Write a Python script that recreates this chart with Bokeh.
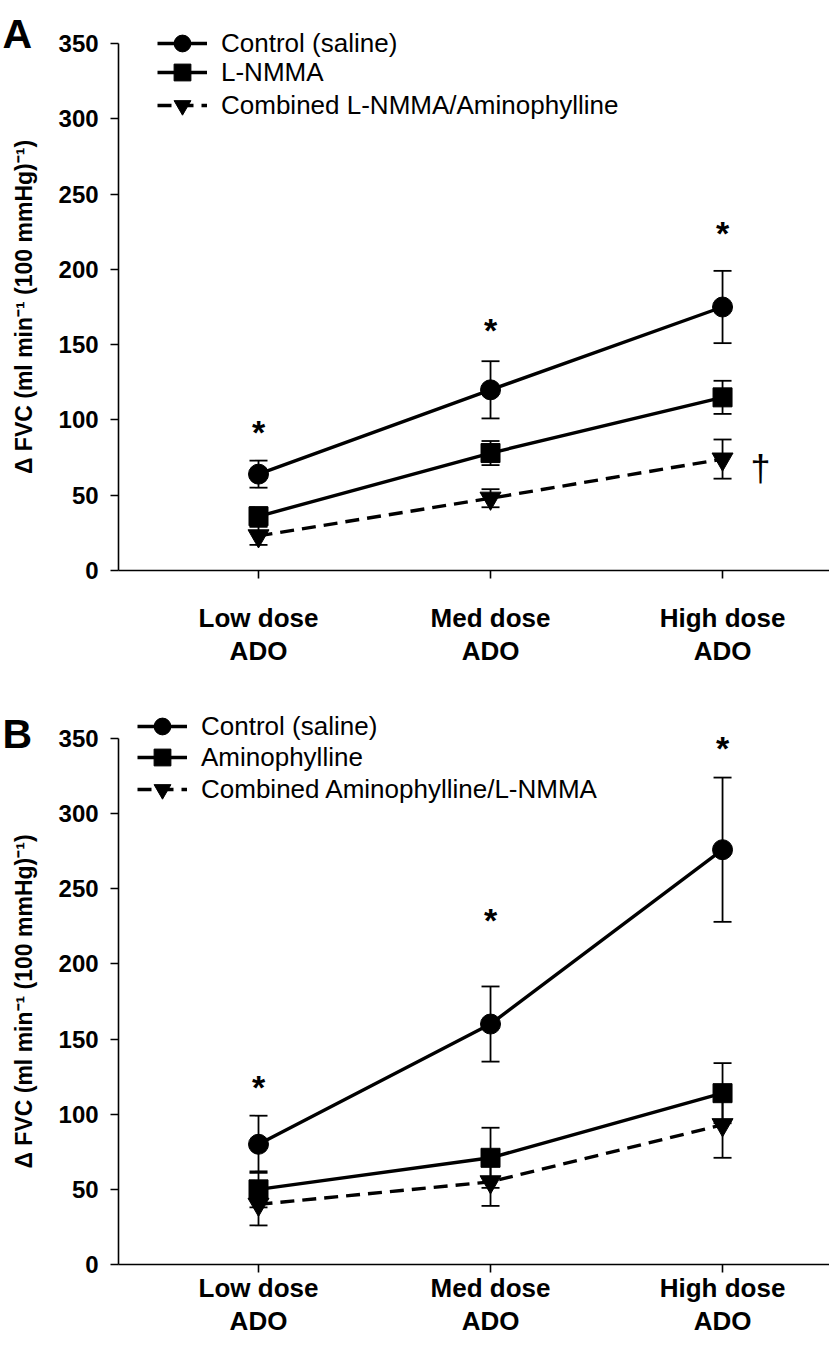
from bokeh.plotting import figure
from bokeh.layouts import column
from bokeh.models import Range1d, Legend, LegendItem, FixedTicker, Label
from bokeh.embed import file_html
from bokeh.resources import INLINE
from bokeh.core.properties import value

FONT = "Liberation Sans"

# ---------------- data ----------------
doses = [1, 2, 3]
dose_labels = ["Low dose\nADO", "Med dose\nADO", "High dose\nADO"]
y_ticks = [0, 50, 100, 150, 200, 250, 300, 350]
y_label = "\u0394 FVC (ml min\u207b\u00b9 (100 mmHg)\u207b\u00b9)"

# Panel A
a_labels = ["Control (saline)", "L-NMMA", "Combined L-NMMA/Aminophylline"]
a_control = [64, 120, 175]
a_control_err = [9, 19, 24]
a_lnmma = [36, 78, 115]
a_lnmma_err = [6, 8, 11]
a_combined = [23, 48, 74]
a_combined_err = [6, 6, 13]
a_star_y = [92, 160, 224]
a_dagger_x = [3.164]
a_dagger_y = [68]

# Panel B
b_labels = ["Control (saline)", "Aminophylline", "Combined Aminophylline/L-NMMA"]
b_control = [80, 160, 276]
b_control_err = [19, 25, 48]
b_amino = [50, 71, 114]
b_amino_err = [12, 20, 20]
b_combined = [40, 55, 93]
b_combined_err = [14, 16, 22]
b_star_y = [118, 229, 344]

X_START, X_END, Y_AXIS_AT = -0.112, 3.461, 0.397


def make_panel(letter, labels, series, errs, star_y, dagger, height, y_start, y_end,
               legend_x, legend_rows, letter_y, x_standoff):
    p = figure(width=829, height=height, output_backend="svg", toolbar_location=None,
               x_range=Range1d(X_START, X_END), y_range=Range1d(y_start, y_end),
               min_border_left=0, min_border_right=0, min_border_top=0,
               min_border_bottom=0)
    p.outline_line_color = None
    p.grid.visible = False
    p.background_fill_color = "white"

    for ax in (p.xaxis[0], p.yaxis[0]):
        ax.axis_line_width = 1.6
        ax.axis_line_color = "black"
        ax.major_tick_line_width = 1.6
        ax.major_tick_line_color = "black"
        ax.major_tick_in = 0
        ax.major_tick_out = 8
        ax.minor_tick_line_color = None
        ax.major_label_text_font = FONT
        ax.major_label_text_font_style = "bold"
        ax.major_label_text_color = "black"
    p.yaxis.fixed_location = Y_AXIS_AT
    p.yaxis.bounds = (0, 350)
    p.yaxis.ticker = FixedTicker(ticks=y_ticks)
    p.yaxis.major_label_text_font_size = "24px"
    p.yaxis.major_label_standoff = 12
    p.yaxis.axis_label = y_label
    p.yaxis.axis_label_text_font = FONT
    p.yaxis.axis_label_text_font_style = "bold"
    p.yaxis.axis_label_text_font_size = "23px"
    p.yaxis.axis_label_text_color = "black"
    p.yaxis.axis_label_standoff = 18
    p.xaxis.fixed_location = 0
    p.xaxis.bounds = (Y_AXIS_AT, X_END)
    p.xaxis.ticker = FixedTicker(ticks=doses)
    p.xaxis.major_label_overrides = {d: l for d, l in zip(doses, dose_labels)}
    p.xaxis.major_label_text_font_size = "26px"
    p.xaxis.major_label_text_line_height = 1.1
    p.xaxis.major_label_standoff = x_standoff

    markers = ["circle", "square", "inverted_triangle"]
    sizes = [20, 19, 21]
    dashes = ["solid", "solid", "14 8"]

    for y, e in zip(series, errs):
        lo = [v - d for v, d in zip(y, e)]
        hi = [v + d for v, d in zip(y, e)]
        p.segment(x0=doses, y0=lo, x1=doses, y1=hi, line_color="black", line_width=1.8)
        p.scatter(x=doses + doses, y=lo + hi, marker="dash", size=18,
                  line_color="black", line_width=1.8)

    line_rs = []
    for y, dash in zip(series, dashes):
        line_rs.append(p.line(doses, y, line_color="black", line_width=3.4, line_dash=dash))
    for lbl, y, m, s, lr, ly in zip(labels, series, markers, sizes, line_rs, legend_rows):
        mr = p.scatter(doses, y, marker=m, size=s, fill_color="black", line_color="black")
        # one legend per row, so that the row pitch matches the reference
        lg = Legend(items=[LegendItem(label=lbl, renderers=[lr, mr])],
                    location=(legend_x, height - ly - 21), glyph_width=50, glyph_height=42,
                    label_standoff=14, padding=0, margin=0,
                    border_line_color=None, background_fill_alpha=0,
                    label_text_font=FONT, label_text_font_size="26px",
                    label_text_color="black")
        p.add_layout(lg)

    p.text(x=doses, y=star_y, text=["*"] * len(doses), text_font=value(FONT),
           text_font_style="bold", text_font_size="34px", text_align="center",
           text_baseline="middle", text_color="black")
    if dagger is not None:
        p.text(x=dagger[0], y=dagger[1], text=["\u2020"], text_font=value(FONT),
               text_font_size="36px", text_align="center", text_baseline="middle",
               text_color="black")

    p.add_layout(Label(x=2, y=letter_y, x_units="screen", y_units="screen", text=letter,
                       text_font=FONT, text_font_style="bold", text_font_size="41px",
                       text_baseline="alphabetic", text_color="black"))
    return p


pa = make_panel("A", a_labels, [a_control, a_lnmma, a_combined],
                [a_control_err, a_lnmma_err, a_combined_err], a_star_y,
                (a_dagger_x, a_dagger_y), height=682, y_start=-74.38, y_end=378.56,
                legend_x=157, legend_rows=[43, 72, 105], letter_y=649, x_standoff=24)
pb = make_panel("B", b_labels, [b_control, b_amino, b_combined],
                [b_control_err, b_amino_err, b_combined_err], b_star_y,
                None, height=675, y_start=-61.88, y_end=387.26,
                legend_x=137, legend_rows=[44, 75, 107], letter_y=624, x_standoff=0)

layout = column(pa, pb, spacing=0)
open("out.html", "w").write(file_html(layout, INLINE))
